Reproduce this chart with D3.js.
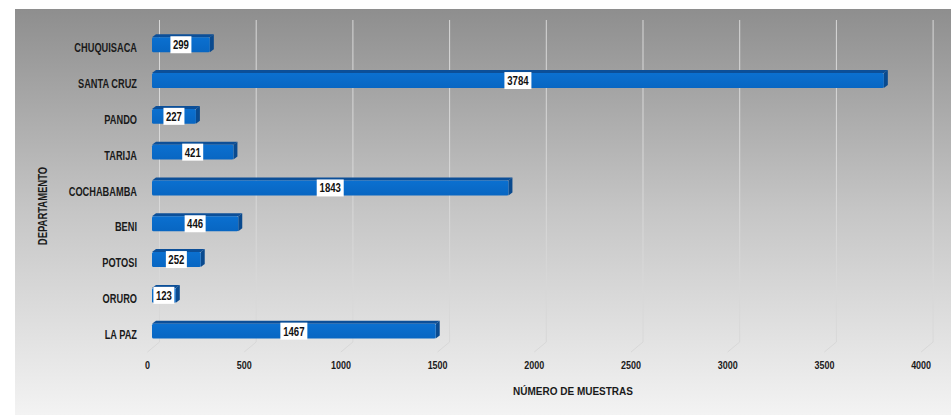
<!DOCTYPE html>
<html><head><meta charset="utf-8">
<script src="https://cdn.jsdelivr.net/npm/d3@7/dist/d3.min.js"></script>
<style>
html,body{margin:0;padding:0;background:#fff;}
svg{display:block;}
text{font-family:"Liberation Sans",Arial,sans-serif;font-weight:bold;fill:#1a1a1a;}
</style></head>
<body>
<svg id="c" width="951" height="415"></svg>
<script>
const categories = ["CHUQUISACA","SANTA CRUZ","PANDO","TARIJA","COCHABAMBA","BENI","POTOSI","ORURO","LA PAZ"];
const values = [299,3784,227,421,1843,446,252,123,1467];
const xTicks = [0,500,1000,1500,2000,2500,3000,3500,4000];
const xTitle = "NÚMERO DE MUESTRAS";
const yTitle = "DEPARTAMENTO";

const svg = d3.select("#c");
const defs = svg.append("defs");
const bg = defs.append("linearGradient").attr("id","bg").attr("x1",0).attr("y1",0).attr("x2",0).attr("y2",1);
bg.append("stop").attr("offset","0%").attr("stop-color","#8e8e8e");
bg.append("stop").attr("offset","50%").attr("stop-color","#c6c6c6");
bg.append("stop").attr("offset","100%").attr("stop-color","#f3f3f3");
const fg = defs.append("linearGradient").attr("id","barf").attr("x1",0).attr("y1",0).attr("x2",0).attr("y2",1);
fg.append("stop").attr("offset","0%").attr("stop-color","#0b70d0");
fg.append("stop").attr("offset","100%").attr("stop-color","#0866c2");

svg.append("rect").attr("x",15).attr("y",9).attr("width",936).attr("height",406).attr("fill","url(#bg)");

// narrow-text helper: horizontal squeeze to mimic a condensed face
function ntext(sel, x, y, str, size, sx, anchor, rot){
  return sel.append("text")
    .attr("transform", `translate(${x},${y})` + (rot ? ` rotate(${rot})` : "") + ` scale(${sx},1)`)
    .attr("text-anchor", anchor).attr("font-size", size).text(str);
}

const x = d3.scaleLinear().domain([0,4000]).range([152,925.6]);
const y = d3.scaleBand().domain(categories).range([25.35,347.55]).paddingInner(0.5).paddingOuter(0.25);
const dxBack = 7.5, dxFront = -4.5, dyFront = 10, gridTop = 20, gridBot = 342;

// gridlines (back wall + floor diagonal)
svg.append("g").selectAll("path").data(xTicks).join("path")
  .attr("d", d => `M${x(d)+dxBack},${gridTop}V${gridBot}L${x(d)+dxFront},${gridBot+dyFront}`)
  .attr("fill","none").attr("stroke","#d8d8d8").attr("stroke-width",1);

// x tick labels
const gt = svg.append("g");
xTicks.forEach(d => ntext(gt, x(d)+dxFront, 369, d, 11.5, 0.78, "middle"));

const depth = 4, topH = 3;
const bw = y.bandwidth();
const bars = svg.append("g").selectAll("g").data(categories).join("g");
bars.each(function(c,i){
  const g = d3.select(this);
  const v = values[i];
  const x0 = x(0), x1 = x(v), yt = y(c);
  g.append("path").attr("d",`M${x0},${yt+topH}L${x0+depth},${yt}L${x1+depth},${yt}L${x1},${yt+topH}Z`).attr("fill","#0c4f98");
  g.append("path").attr("d",`M${x1},${yt+topH}L${x1+depth},${yt}L${x1+depth},${yt+bw-topH}L${x1},${yt+bw}Z`).attr("fill","#0a4a8e");
  g.append("rect").attr("x",x0).attr("y",yt+topH).attr("width",x1-x0).attr("height",bw-topH).attr("rx",1.5).attr("fill","url(#barf)");
  const cx = (x0+x1)/2, cy = yt+topH+(bw-topH)/2;
  const w = String(v).length===4 ? 27 : 21;
  g.append("rect").attr("x",cx-w/2).attr("y",cy-8.5).attr("width",w).attr("height",17).attr("fill","#fff");
  ntext(g, cx, cy+4.5, v, 13, 0.74, "middle").style("fill","#111");
});

// category labels
const gc = svg.append("g");
categories.forEach(c => ntext(gc, 137, y(c)+18, c, 12.5, 0.74, "end"));

// axis titles
ntext(svg, 573, 395, xTitle, 11.5, 0.87, "middle");
ntext(svg, 47, 206, yTitle, 12, 0.79, "middle", -90);
</script>
</body></html>
